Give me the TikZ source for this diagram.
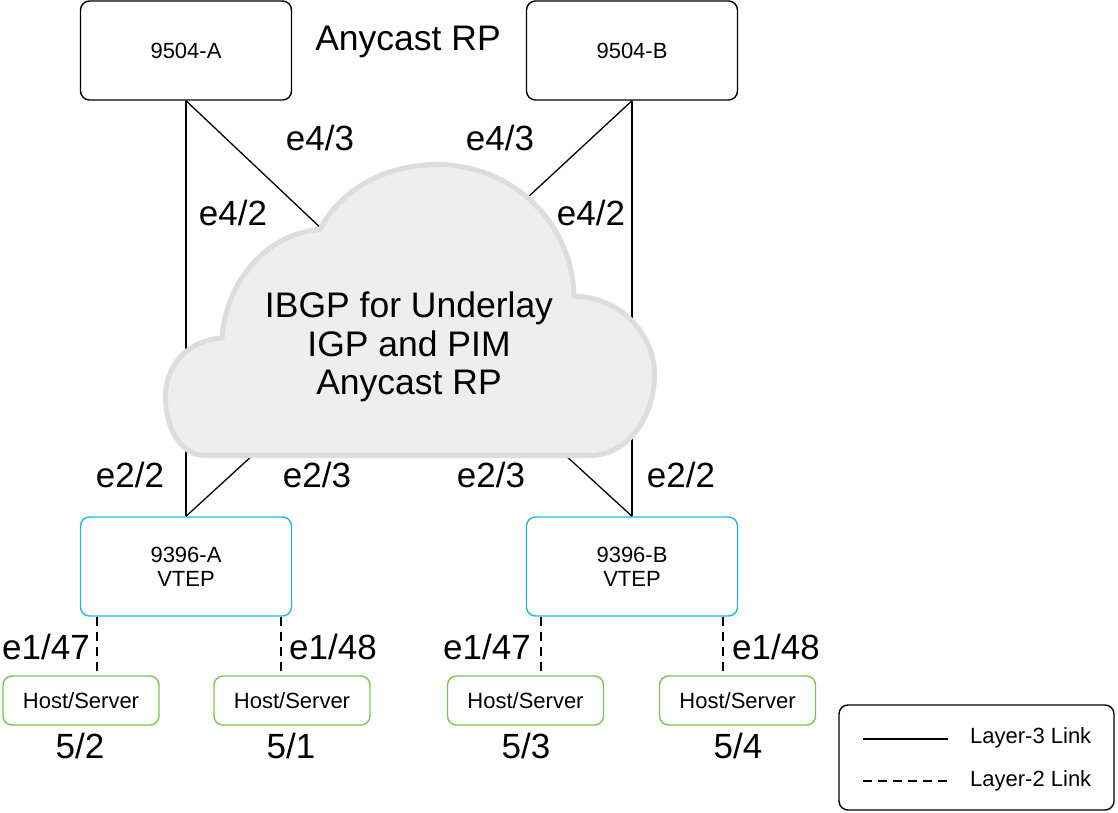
\documentclass[tikz,border=0pt]{standalone}
\usepackage{fontspec}
\setmainfont{Liberation Sans}
\definecolor{vtep}{HTML}{1FB8E6}
\definecolor{hostg}{HTML}{7DC450}
\definecolor{cloudfill}{HTML}{EEEEEE}
\definecolor{cloudline}{HTML}{DDDDDD}
\begin{document}
\begin{tikzpicture}[x=1pt,y=-1pt,
  box/.style={draw=black,line width=1.4pt,rounded corners=9pt,fill=white,align=center,inner sep=0pt,font=\fontsize{22}{24}\selectfont},
  devbox/.style={box,minimum width=211pt,minimum height=99pt},
  vtepbox/.style={devbox,draw=vtep},
  hostbox/.style={box,draw=hostg,minimum width=156pt,minimum height=49pt},
  lbl/.style={font=\fontsize{35}{38}\selectfont,inner sep=0pt},
  l3/.style={draw=black,line width=1.3pt},
  l2/.style={draw=black,line width=1.3pt,dash pattern=on 9pt off 6pt},
  legtxt/.style={font=\fontsize{22}{24}\selectfont,anchor=west,inner sep=0pt}
]
\useasboundingbox (0,0) rectangle (1118,813);

% devices
\node[devbox] (A) at (186,50.5) {9504-A};
\node[devbox] (B) at (632,50.5) {9504-B};
\node[vtepbox] (VA) at (186,566.5) {9396-A\\VTEP};
\node[vtepbox] (VB) at (632,566.5) {9396-B\\VTEP};

\node[hostbox] (H1) at (81,700.5) {Host/Server};
\node[hostbox] (H2) at (292,700.5) {Host/Server};
\node[hostbox] (H3) at (525.5,700.5) {Host/Server};
\node[hostbox] (H4) at (737.5,700.5) {Host/Server};

% cloud edge points
\coordinate (cA) at (325,232);
\coordinate (cB) at (527,198);
\coordinate (cVA) at (254,454);
\coordinate (cVB) at (564,454);

% layer-3 links (behind cloud)
\draw[l3] (A.south) -- (VA.north);
\draw[l3] (B.south) -- (VB.north);
\draw[l3] (A.south) -- (cA);
\draw[l3] (B.south) -- (cB);
\draw[l3] (VA.north) -- (cVA);
\draw[l3] (VB.north) -- (cVB);

% cloud
\path[fill=cloudfill,draw=cloudline,line width=5pt,line join=round]
  (205,455.5) .. controls (182,455.5) and (165.5,430) .. (165.5,397)
  .. controls (165.5,363) and (190,340) .. (222,338)
  .. controls (226,280) and (268,233) .. (320,229.5)
  .. controls (340,190) and (385,164.5) .. (437,164.5)
  .. controls (510,164.5) and (572,220) .. (574,296)
  .. controls (620,297) and (654.5,334) .. (654.5,374)
  .. controls (654.5,418) and (627,455.5) .. (590,455.5) -- cycle;
\node[align=center,inner sep=0pt,font=\fontsize{35.5}{38.5}\selectfont] (ct) at (409,347) {IBGP for Underlay\\IGP and PIM\\Anycast RP};

\node[font=\fontsize{35.5}{38}\selectfont,inner sep=0pt] (art) at (408,42) {Anycast RP};

% layer-2 links
\coordinate (x1) at (97,0);
\coordinate (x2) at (281,0);
\coordinate (x3) at (541,0);
\coordinate (x4) at (723,0);
\draw[l2] (VA.south -| x1) -- (H1.north -| x1);
\draw[l2] (VA.south -| x2) -- (H2.north -| x2);
\draw[l2] (VB.south -| x3) -- (H3.north -| x3);
\draw[l2] (VB.south -| x4) -- (H4.north -| x4);

% port labels
\node[lbl] (p1) at (320,138) {e4/3};
\node[lbl] (p2) at (500,138) {e4/3};
\node[lbl] (p3) at (233,213) {e4/2};
\node[lbl] (p4) at (591,213) {e4/2};
\node[lbl] (p5) at (130,475) {e2/2};
\node[lbl] (p6) at (317,475) {e2/3};
\node[lbl] (p7) at (491,475) {e2/3};
\node[lbl] (p8) at (681,475) {e2/2};
\node[lbl] (p9) at (46,647) {e1/47};
\node[lbl] (p10) at (333,647) {e1/48};
\node[lbl] (p11) at (487,647) {e1/47};
\node[lbl] (p12) at (776,647) {e1/48};
\node[lbl] (s1) at (80,746) {5/2};
\node[lbl] (s2) at (291,746) {5/1};
\node[lbl] (s3) at (526,746) {5/3};
\node[lbl] (s4) at (738,746) {5/4};

% legend
\node[box,minimum width=275pt,minimum height=105pt] (leg) at (976.5,757.5) {};
\coordinate (g1a) at (863,739);
\coordinate (g1b) at (948,739);
\coordinate (g2a) at (863,781);
\coordinate (g2b) at (948,781);
\draw[l3] (g1a) -- (g1b);
\draw[l2] (g2a) -- (g2b);
\node[legtxt] (t3) at (970,738) {Layer-3 Link};
\node[legtxt] (t2) at (970,781) {Layer-2 Link};
\end{tikzpicture}
\end{document}
